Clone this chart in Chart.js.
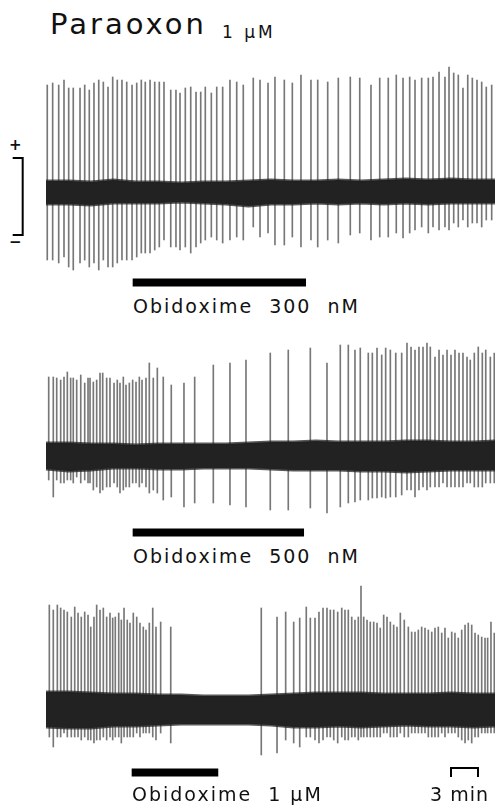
<!DOCTYPE html>
<html>
<head>
<meta charset="utf-8">
<script src="https://cdn.jsdelivr.net/npm/chart.js@4.4.0/dist/chart.umd.min.js"></script>
<style>
  html, body { margin: 0; padding: 0; background: #fff; }
  #fig { position: relative; width: 495px; height: 810px; overflow: hidden; font-family: "DejaVu Sans", sans-serif; color: #111; }
  #fig canvas { position: absolute; left: 0; }
  .txt { position: absolute; line-height: 1; white-space: pre; }
  .lbl { font-size: 19px; letter-spacing: 2px; }
  .sign { width: 12px; text-align: center; font-size: 15px; font-weight: bold; }
</style>
</head>
<body>
<div id="fig">
  <div class="txt" style="left:50px; top:10px; font-size:29px; letter-spacing:3px;">Paraoxon</div>
  <div class="txt" style="left:222px; top:24px; font-size:17px; letter-spacing:3px;">1 μM</div>
  <div class="txt sign" style="left:9px; top:138px;">+</div>
  <div class="txt sign" style="left:9px; top:235px;">−</div>

  <canvas id="panel1" width="495" height="240" style="top:55px"></canvas>
  <div class="txt lbl" style="left:133px; top:297px;">Obidoxime  300  nM</div>

  <canvas id="panel2" width="495" height="210" style="top:335px"></canvas>
  <div class="txt lbl" style="left:133px; top:547px;">Obidoxime  500  nM</div>

  <canvas id="panel3" width="495" height="205" style="top:580px"></canvas>
  <div class="txt lbl" style="left:132px; top:785px;">Obidoxime  1 μM</div>
  <div class="txt lbl" style="left:430px; top:785px; letter-spacing:1px;">3 min</div>
</div>

<script>
// time in min from start of each trace, amplitudes in arbitrary units (up / down from baseline)
let p1Times = [0.14, 0.74, 1.41, 2.0, 2.52, 3.03, 3.78, 4.3, 4.81, 5.33, 5.86, 6.37, 6.89, 7.41, 7.92, 8.44, 8.97, 9.56, 10.08, 10.59,
    11.03, 11.56, 12.08, 12.59, 13.11, 13.86, 14.44, 14.89, 15.48, 16.08, 16.67, 17.19, 17.7, 18.37, 18.97, 19.63, 20.44, 21.19, 21.92, 23.03,
    23.78, 24.67, 25.44, 26.48, 27.37, 28.33, 29.44, 30.19, 31.3, 32.48, 33.81, 34.86, 36.11, 37.08, 38.03, 38.92, 39.67, 40.41, 41.0, 41.74,
    42.48, 43.0, 43.67, 44.33, 44.78, 45.3, 45.81, 46.33, 46.86, 47.37, 47.89, 48.41, 48.92, 49.52];
let p1Up = [107, 109, 107, 112, 104, 104, 104, 107, 102, 109, 112, 110, 105, 115, 112, 112, 110, 107, 109, 112,
    110, 112, 110, 110, 110, 102, 102, 99, 104, 105, 100, 100, 105, 99, 105, 105, 112, 110, 107, 114,
    112, 109, 115, 112, 109, 117, 112, 112, 110, 114, 115, 114, 107, 114, 114, 117, 114, 115, 112, 114,
    114, 115, 120, 115, 125, 119, 117, 104, 117, 114, 112, 110, 105, 107];
let p1Down = [68, 68, 71, 65, 75, 78, 71, 68, 75, 71, 78, 68, 75, 75, 71, 68, 68, 68, 65, 61,
    61, 61, 58, 55, 48, 55, 55, 58, 55, 61, 55, 51, 48, 45, 48, 51, 48, 45, 48, 35,
    45, 41, 53, 53, 45, 55, 48, 55, 48, 51, 43, 41, 48, 45, 45, 41, 46, 41, 38, 35,
    41, 35, 38, 35, 38, 31, 35, 28, 35, 31, 31, 35, 28, 28];

let p2Times = [0.3, 0.81, 1.19, 1.63, 2.0, 2.37, 2.74, 3.03, 3.41, 3.86, 4.3, 4.67, 4.89, 5.26, 5.63, 6.0, 6.3, 6.74, 7.11, 7.56,
    7.92, 8.22, 8.59, 8.89, 9.26, 9.63, 10.0, 10.37, 10.67, 11.11, 11.48, 11.92, 12.37, 13.03, 13.92, 15.33, 16.52, 18.59, 20.44, 22.22,
    24.92, 26.92, 29.37, 31.22, 32.7, 33.59, 34.33, 34.92, 35.81, 36.26, 36.78, 37.3, 37.74, 38.26, 38.86, 39.52, 40.11, 40.56, 41.0, 41.44,
    41.89, 42.33, 42.7, 43.22, 43.67, 44.11, 44.56, 45.0, 45.44, 45.89, 46.33, 46.78, 47.14, 47.59, 48.03, 48.48, 48.86, 49.37, 49.81];
let p2Up = [79, 79, 78, 76, 79, 84, 78, 78, 76, 81, 73, 78, 78, 74, 76, 83, 83, 78, 78, 73,
    76, 73, 79, 71, 73, 76, 74, 79, 76, 78, 93, 78, 88, 79, 71, 73, 79, 91, 93, 96,
    103, 106, 108, 93, 111, 111, 106, 108, 103, 103, 108, 101, 108, 106, 103, 103, 113, 109, 106, 109,
    109, 113, 109, 99, 106, 101, 106, 101, 106, 103, 103, 99, 96, 103, 109, 103, 106, 99, 103];
let p2Down = [24, 41, 24, 27, 27, 24, 24, 27, 21, 27, 24, 27, 27, 34, 31, 37, 34, 31, 31, 27,
    31, 37, 34, 31, 31, 27, 27, 31, 27, 31, 37, 34, 37, 44, 41, 51, 47, 47, 49, 51,
    54, 54, 52, 57, 51, 47, 46, 44, 44, 42, 42, 41, 42, 41, 41, 39, 34, 34, 41, 34,
    31, 34, 31, 31, 31, 27, 31, 31, 31, 31, 31, 27, 27, 31, 31, 31, 27, 27, 27];

let p3Times = [0.37, 0.81, 1.26, 1.63, 2.0, 2.37, 2.81, 3.19, 3.56, 3.92, 4.3, 4.67, 4.97, 5.33, 5.63, 6.0, 6.37, 6.74, 7.11, 7.41,
    7.7, 8.08, 8.37, 8.67, 9.03, 9.33, 9.7, 10.08, 10.44, 10.81, 11.11, 11.48, 11.86, 12.22, 12.74, 13.86, 23.92,
    25.67, 26.63, 27.52, 28.19, 28.92, 29.37, 29.89, 30.33, 30.78, 31.22, 31.59, 31.97, 32.41, 32.86, 33.22, 33.59, 33.97, 34.33, 34.7, 35.0,
    35.3, 35.67, 36.03, 36.41, 36.78, 37.14, 37.52, 37.89, 38.26, 38.63, 39.0, 39.37, 39.81, 40.26, 40.63, 41.0, 41.37, 41.74, 42.11, 42.48,
    42.86, 43.22, 43.59, 43.97, 44.33, 44.7, 45.08, 45.44, 45.81, 46.19, 46.56, 46.92, 47.3, 47.67, 48.03, 48.41, 48.78, 49.07, 49.44, 49.81];
let p3Up = [105, 100, 105, 102, 100, 98, 93, 103, 97, 93, 98, 95, 83, 93, 105, 100, 102, 93, 97, 92,
    93, 97, 90, 102, 90, 87, 97, 93, 87, 83, 80, 87, 102, 83, 88, 83, 102,
    93, 98, 88, 92, 103, 92, 92, 98, 102, 102, 100, 100, 98, 102, 100, 100, 93, 90, 93, 124,
    93, 90, 88, 88, 87, 82, 95, 93, 88, 85, 83, 97, 90, 83, 78, 78, 80, 83, 82, 80,
    78, 82, 83, 77, 82, 72, 78, 77, 72, 80, 85, 87, 85, 77, 75, 73, 72, 72, 88, 77];
let p3Down = [27, 37, 27, 27, 23, 27, 27, 27, 27, 30, 27, 30, 30, 33, 30, 30, 27, 30, 27, 30,
    27, 27, 33, 27, 27, 27, 27, 23, 27, 23, 23, 23, 27, 30, 23, 33, 45,
    43, 30, 33, 37, 27, 27, 30, 33, 30, 27, 27, 30, 33, 27, 30, 30, 27, 27, 30, 27,
    27, 27, 27, 27, 27, 27, 23, 23, 27, 27, 27, 23, 27, 27, 23, 23, 23, 23, 23, 27,
    27, 27, 27, 23, 27, 23, 23, 23, 27, 30, 33, 30, 33, 27, 27, 23, 23, 23, 23, 23];

// noise band (baseline activity) envelope
let bandTimes = [0, 2.5, 5, 7.5, 10, 12.5, 15, 17.5, 20, 22.5, 25, 27.5, 30, 32.5, 35, 37.5, 40, 42.5, 45, 47.5, 49.9];
let p1BandHi = [11, 11, 10, 12, 10, 10, 9, 10, 10, 11, 12, 11, 11, 12, 11, 12, 13, 12, 13, 12, 12];
let p1BandLo = [-12, -12, -13, -11, -11, -11, -10, -11, -12, -14, -12, -12, -11, -12, -11, -12, -11, -12, -11, -11, -11];
let p2BandHi = [13, 13, 12, 12, 11, 12, 12, 12, 12, 13, 14, 14, 15, 14, 14, 14, 15, 15, 14, 14, 15];
let p2BandLo = [-13, -15, -14, -12, -12, -13, -13, -12, -12, -12, -13, -14, -14, -14, -15, -15, -16, -15, -14, -14, -14];
let p3BandHi = [18, 18, 17, 16, 16, 15, 15, 14, 14, 14, 15, 16, 17, 17, 17, 16, 16, 16, 17, 16, 16];
let p3BandLo = [-17, -18, -18, -16, -16, -15, -14, -14, -14, -14, -15, -17, -17, -16, -17, -16, -15, -16, -16, -17, -16];

// obidoxime application (min)
let drugStart = [9.63, 9.63, 9.52];
let drugEnd = [28.89, 28.67, 19.14];

// calibration bars
let ampCal = [34, -43];
let timeCal = [45, 48];

const xMin = -5.111, xMax = 49.889;

function band(hi, lo) {
    return [{
        type: 'line',
        data: bandTimes.map(function (t, i) { return { x: t, y: hi[i] }; }),
        borderColor: 'rgba(32,32,32,0.75)',
        borderWidth: 3,
        backgroundColor: '#222',
        fill: '+1',
        pointRadius: 0,
        tension: 0,
        order: 0
    }, {
        type: 'line',
        data: bandTimes.map(function (t, i) { return { x: t, y: lo[i] }; }),
        borderColor: 'rgba(32,32,32,0.75)',
        borderWidth: 3,
        fill: false,
        pointRadius: 0,
        tension: 0,
        order: 0
    }];
}

function spikes(times, up, down) {
    return {
        type: 'bar',
        data: times.map(function (t, i) { return { x: t, y: [-down[i], up[i]] }; }),
        backgroundColor: '#777',
        barThickness: 1,
        grouped: false,
        order: 2
    };
}

function drugBar(i, y) {
    return {
        type: 'line',
        data: [{ x: drugStart[i], y: y }, { x: drugEnd[i], y: y }],
        borderColor: '#000',
        borderWidth: 8,
        borderCapStyle: 'butt',
        pointRadius: 0,
        order: 1
    };
}

function drawPanel(id, yMin, yMax, datasets) {
    new Chart(document.getElementById(id), {
        type: 'bar',
        data: { datasets: datasets },
        options: {
            responsive: false,
            animation: false,
            layout: { padding: 0 },
            plugins: { legend: { display: false }, tooltip: { enabled: false } },
            scales: {
                x: { type: 'linear', min: xMin, max: xMax, offset: false, display: false },
                y: { type: 'linear', min: yMin, max: yMax, display: false }
            }
        }
    });
}

// panel 1 (with amplitude calibration)
let p1Sets = band(p1BandHi, p1BandLo);
p1Sets.push(spikes(p1Times, p1Up, p1Down));
p1Sets.push(drugBar(0, -90.5));
p1Sets.push({
    type: 'line',
    data: [{ x: -3.7, y: ampCal[0] }, { x: -2.59, y: ampCal[0] }, { x: -2.59, y: ampCal[1] }, { x: -3.7, y: ampCal[1] }],
    borderColor: '#000',
    borderWidth: 2,
    pointRadius: 0,
    tension: 0,
    order: 1
});
drawPanel('panel1', -103, 137, p1Sets);

// panel 2
let p2Sets = band(p2BandHi, p2BandLo);
p2Sets.push(spikes(p2Times, p2Up, p2Down));
p2Sets.push(drugBar(1, -76.5));
drawPanel('panel2', -89, 121, p2Sets);

// panel 3 (with time calibration)
let p3Sets = band(p3BandHi, p3BandLo);
p3Sets.push(spikes(p3Times, p3Up, p3Down));
p3Sets.push(drugBar(2, -62.5));
p3Sets.push({
    type: 'line',
    data: [{ x: timeCal[0], y: -67 }, { x: timeCal[0], y: -58 }, { x: timeCal[1], y: -58 }, { x: timeCal[1], y: -67 }],
    borderColor: '#000',
    borderWidth: 2,
    pointRadius: 0,
    tension: 0,
    order: 1
});
drawPanel('panel3', -75, 130, p3Sets);
</script>
</body>
</html>
